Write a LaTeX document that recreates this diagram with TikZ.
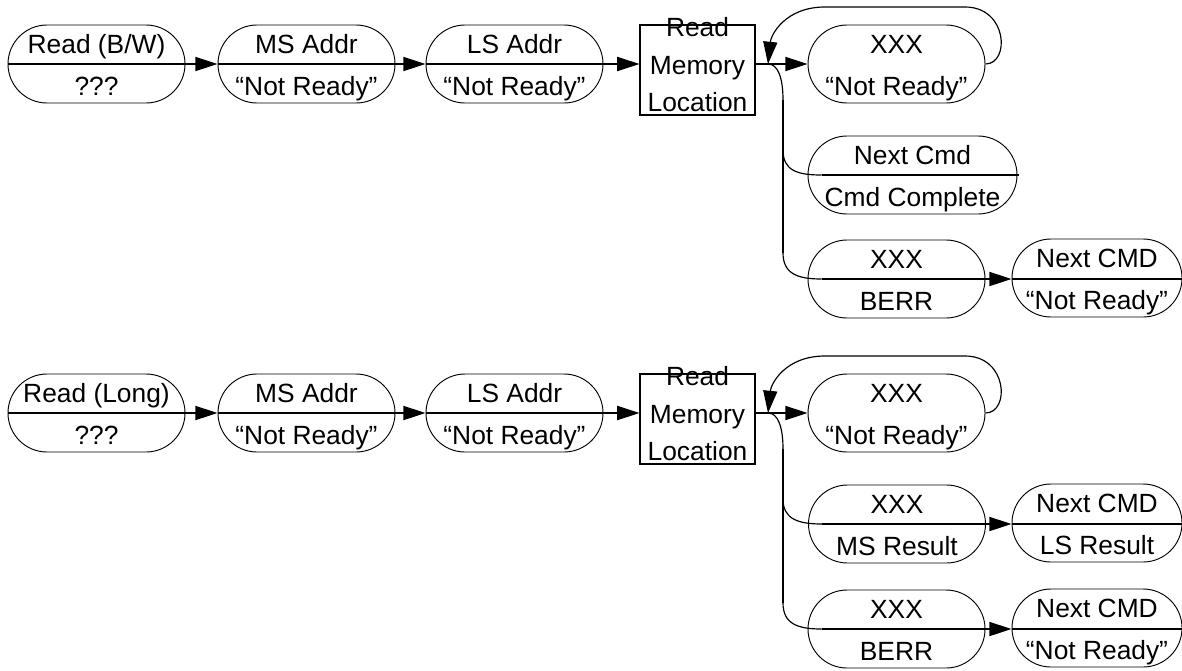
\documentclass[tikz,border=0pt]{standalone}
\usepackage{fontspec}
\setmainfont{Liberation Sans}
\usetikzlibrary{arrows.meta}
\begin{document}
\begin{tikzpicture}[x=0.03cm,y=-0.03cm,
  stad/.style={draw, line width=0.8pt, rounded corners=1.17cm, minimum width=#1, minimum height=2.34cm, inner sep=0pt},
  stad/.default=5.31cm,
  rmbox/.style={draw, line width=0.9pt, minimum width=3.45cm, minimum height=2.7cm, inner sep=0pt},
  txt/.style={font=\fontsize{22.5}{27}\selectfont, inner sep=0pt, anchor=base},
  btxt/.style={font=\fontsize{22.5}{32}\selectfont, inner sep=0pt, align=center},
  main/.style={line width=1.6pt},
  curve/.style={line width=1pt},
  arr/.style={-{Triangle[length=19pt,width=12pt]}}
]
\useasboundingbox (0,0) rectangle (1182,670);
\newcommand\stn[6]{%
  \node[stad=#4] (#1) at (#2,#3) {};
  \node[txt] (#1u) at ([yshift=0.33cm]#1.center) {#5};
  \node[txt] (#1l) at ([yshift=-0.93cm]#1.center) {#6};
}
% ---------- Row 1 ----------
\stn{n1}{96.5}{64}{5.31cm}{Read (B/W)}{???}
\stn{n2}{306.5}{64}{5.31cm}{MS Addr}{“Not Ready”}
\stn{n3}{514.5}{64}{5.31cm}{LS Addr}{“Not Ready”}
\node[rmbox] (rm1) at (697.5,70) {};
\node[btxt] (rm1t) at (697.5,65) {Read\\Memory\\Location};
\coordinate (j1) at (768,64);
\stn{x1}{896.5}{64}{5.31cm}{XXX}{“Not Ready”}
\stn{c1}{912.5}{175}{6.27cm}{Next Cmd}{Cmd Complete}
\stn{b1}{896.5}{279}{5.31cm}{XXX}{BERR}
\stn{b1n}{1097}{278}{5.1cm}{Next CMD}{“Not Ready”}

\draw[main,arr] (n1.west) -- (n2.west);
\draw[main,arr] (n2.west) -- (n3.west);
\draw[main,arr] (n3.west) -- (rm1.west |- n3.west);
\draw[main] (rm1.east |- j1) -- (j1);
\draw[main,arr] (j1) -- (x1.west);
\draw[curve,arr] (x1.east) .. controls (1010,64) and (1008,7) .. (965,7) -- (825,7) .. controls (785,7) and (771,35) .. (j1);
\coordinate (v1a) at (783,100);
\coordinate (v1b) at (783,150);
\coordinate (v1c) at (783,253);
\draw[curve] (j1) .. controls (778,64) and (783,78) .. (v1a);
\draw[main] (v1a) -- (v1c);
\draw[curve] (v1b) .. controls (783,171) and (798,175) .. ([xshift=0.42cm]c1.west);
\draw[main] ([xshift=0.42cm]c1.west) -- ([xshift=0.05cm]c1.east);
\draw[curve] (v1c) .. controls (783,274) and (798,279) .. ([xshift=0.42cm]b1.west);
\draw[main,arr] ([xshift=0.42cm]b1.west) -- (b1n.west |- b1.west);
\draw[main] (b1n.west |- b1.west) -- (b1n.east |- b1.west);

% ---------- Row 2 ----------
\stn{m1}{96.5}{413}{5.31cm}{Read (Long)}{???}
\stn{m2}{306.5}{413}{5.31cm}{MS Addr}{“Not Ready”}
\stn{m3}{514.5}{413}{5.31cm}{LS Addr}{“Not Ready”}
\node[rmbox] (rm2) at (697.5,419) {};
\node[btxt] (rm2t) at (697.5,414) {Read\\Memory\\Location};
\coordinate (j2) at (768,413);
\stn{x2}{896.5}{413}{5.31cm}{XXX}{“Not Ready”}
\stn{r2}{897}{524}{5.31cm}{XXX}{MS Result}
\stn{r2n}{1097}{523}{5.1cm}{Next CMD}{LS Result}
\stn{b2}{896.5}{629}{5.31cm}{XXX}{BERR}
\stn{b2n}{1097}{628}{5.1cm}{Next CMD}{“Not Ready”}

\draw[main,arr] (m1.west) -- (m2.west);
\draw[main,arr] (m2.west) -- (m3.west);
\draw[main,arr] (m3.west) -- (rm2.west |- m3.west);
\draw[main] (rm2.east |- j2) -- (j2);
\draw[main,arr] (j2) -- (x2.west);
\draw[curve,arr] (x2.east) .. controls (1010,413) and (1008,356) .. (965,356) -- (825,356) .. controls (785,356) and (771,384) .. (j2);
\coordinate (v2a) at (783,449);
\coordinate (v2b) at (783,499);
\coordinate (v2c) at (783,603);
\draw[curve] (j2) .. controls (778,413) and (783,427) .. (v2a);
\draw[main] (v2a) -- (v2c);
\draw[curve] (v2b) .. controls (783,519) and (798,524) .. ([xshift=0.42cm]r2.west);
\draw[main,arr] ([xshift=0.42cm]r2.west) -- (r2n.west |- r2.west);
\draw[main] (r2n.west |- r2.west) -- (r2n.east |- r2.west);
\draw[curve] (v2c) .. controls (783,624) and (798,629) .. ([xshift=0.42cm]b2.west);
\draw[main,arr] ([xshift=0.42cm]b2.west) -- (b2n.west |- b2.west);
\draw[main] (b2n.west |- b2.west) -- (b2n.east |- b2.west);
\end{tikzpicture}
\end{document}
